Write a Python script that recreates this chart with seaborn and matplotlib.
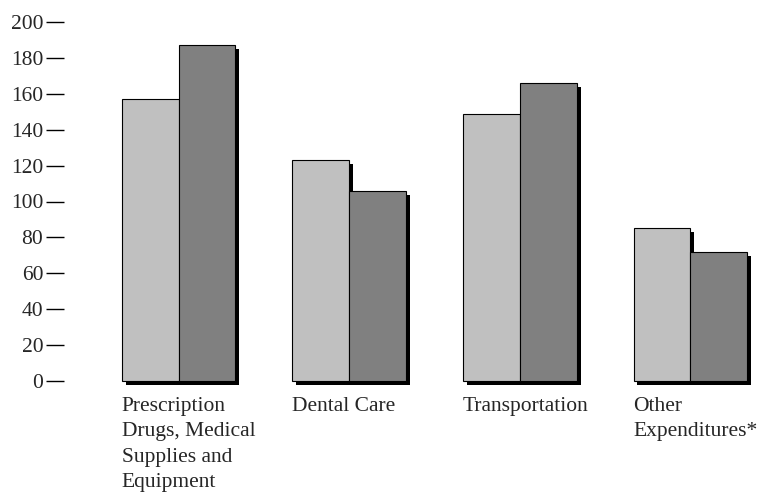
import seaborn as sns
import matplotlib.pyplot as plt
import matplotlib.patheffects as pe
import pandas as pd

categories = [
    "Prescription\nDrugs, Medical\nSupplies and\nEquipment",
    "Dental Care",
    "Transportation",
    "Other\nExpenditures*",
]
series_names = ["Period 1", "Period 2"]
period1 = [157, 123, 149, 85]
period2 = [187, 106, 166, 72]
y_ticks = [0, 20, 40, 60, 80, 100, 120, 140, 160, 180, 200]

df = pd.DataFrame({
    "category": categories * 2,
    "series": [series_names[0]] * len(categories) + [series_names[1]] * len(categories),
    "value": period1 + period2,
})

sns.set_style("white")
plt.rcParams["font.family"] = ["Liberation Serif", "DejaVu Serif"]

fig = plt.figure(figsize=(7.57, 4.93), dpi=100)
ax = fig.add_axes([64 / 757, 112 / 493, 1 - 64 / 757, (381 - 22) / 493])

sns.barplot(
    data=df, x="category", y="value", hue="series",
    palette={series_names[0]: "#c0c0c0", series_names[1]: "#808080"},
    saturation=1, width=2 / 3, edgecolor="black", linewidth=0.8,
    legend=False, ax=ax,
)

# drop shadow on each bar
for bar in ax.patches:
    bar.set_clip_on(False)
    bar.set_path_effects([
        pe.SimplePatchShadow(offset=(2.8, -2.8), shadow_rgbFace="black", alpha=1),
        pe.Normal(),
    ])

ax.set_ylim(0, 200)
ax.set_xlim(-0.671, 3.39)
ax.set_yticks(y_ticks)
ax.set_yticklabels([str(t) for t in y_ticks], fontsize=15.5)
ax.tick_params(axis="y", direction="out", length=13, width=1, pad=2, color="black", left=True)
ax.set_xticks([])
ax.set_xlabel("")
ax.set_ylabel("")
for s in ax.spines.values():
    s.set_visible(False)

# category labels, left aligned under the first bar of each group
for i, name in enumerate(categories):
    ax.text(i - 1 / 3, -0.045, name, transform=ax.get_xaxis_transform(),
            ha="left", va="top", fontsize=15.5, linespacing=1.45)

fig.savefig("out.png", dpi=100)
